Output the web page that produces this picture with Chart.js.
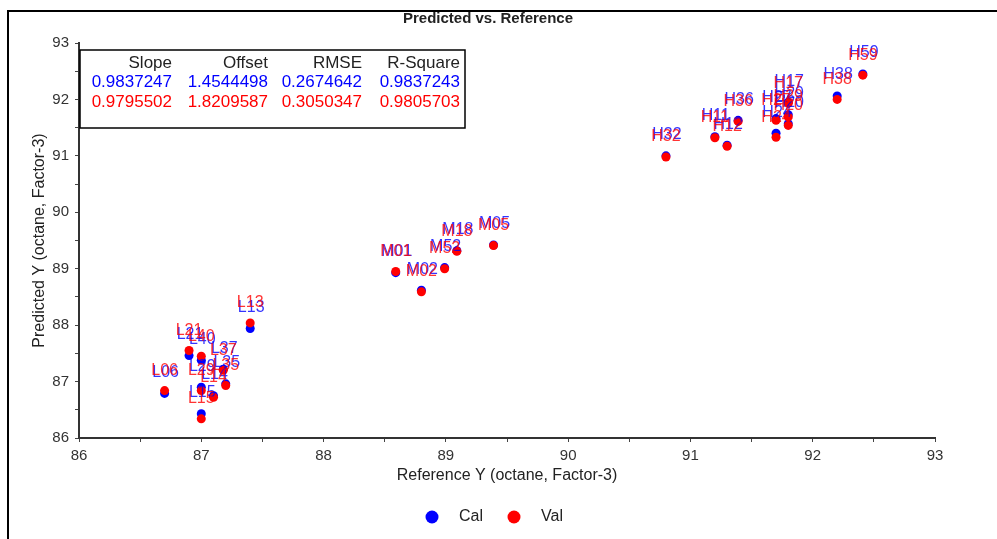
<!DOCTYPE html>
<html>
<head>
<meta charset="utf-8">
<script src="https://cdn.jsdelivr.net/npm/chart.js@4.4.1/dist/chart.umd.min.js"></script>
<style>
  html, body { margin: 0; padding: 0; background: #fff; }
  #wrap { width: 997px; height: 539px; position: relative; }
</style>
</head>
<body>
<div id="wrap"><canvas id="chart" width="997" height="539"></canvas></div>
<script>
// sample names and values
const samples = ['H59','H38','H17','H29','H20','H27','H24','H36','H11','H12','H32',
                 'M05','M18','M52','M01','M02',
                 'L13','L21','L40','L37','L35','L29','L14','L06','L15'];
const refY = [92.41, 92.20, 91.80, 91.80, 91.80, 91.70, 91.70, 91.39, 91.20, 91.30, 90.80,
              89.39, 89.09, 88.99, 88.59, 88.80,
              87.40, 86.90, 87.00, 87.18, 87.20, 87.00, 87.10, 86.70, 87.00];
const calPred = [92.45, 92.06, 91.95, 91.73, 91.57, 91.66, 91.40, 91.63, 91.34, 91.19, 91.00,
                 89.42, 89.32, 89.02, 88.93, 88.62,
                 87.94, 87.46, 87.38, 87.22, 86.96, 86.90, 86.75, 86.79, 86.43];
const valPred = [92.43, 92.00, 91.93, 91.69, 91.54, 91.63, 91.33, 91.61, 91.32, 91.17, 90.98,
                 89.41, 89.31, 89.00, 88.95, 88.59,
                 88.04, 87.55, 87.45, 87.20, 86.93, 86.84, 86.72, 86.84, 86.34];

const statNames = ['Slope', 'Offset', 'RMSE', 'R-Square'];
const calStats = ['0.9837247', '1.4544498', '0.2674642', '0.9837243'];
const valStats = ['0.9795502', '1.8209587', '0.3050347', '0.9805703'];

const seriesNames = ['Cal', 'Val'];
const BLUE = '#0000ff';
const RED = '#ff0000';
const FONT = 'Arial, "Liberation Sans", sans-serif';

function pts(ys) {
    return refY.map((x, i) => ({ x: x, y: ys[i] }));
}

// frame, title, stats box, point labels and legend
const extras = {
    id: 'extras',
    beforeDraw(chart) {
        const c = chart.ctx;
        c.save();
        c.fillStyle = '#fff';
        c.fillRect(0, 0, chart.width, chart.height);
        c.strokeStyle = '#000';
        c.lineWidth = 2;
        c.strokeRect(8, 11, 1200, 1200);
        c.fillStyle = '#222';
        c.font = 'bold 15px ' + FONT;
        c.textAlign = 'center';
        c.textBaseline = 'middle';
        c.fillText('Predicted vs. Reference', 488, 19);
        c.restore();
    },
    afterDatasetsDraw(chart) {
        const c = chart.ctx;
        c.save();
        c.font = '16px ' + FONT;
        c.textAlign = 'center';
        c.textBaseline = 'middle';
        [0, 1].forEach(d => {
            const meta = chart.getDatasetMeta(d);
            c.fillStyle = d === 0 ? BLUE : RED;
            c.globalAlpha = d === 0 ? 0.8 : 0.8;
            meta.data.forEach((p, i) => {
                const off = d === 0 ? 1 : 0;
                c.fillText(samples[i], p.x + off, p.y - 20 - off);
            });
        });
        c.restore();
    },
    afterDraw(chart) {
        const c = chart.ctx;
        c.save();
        // stats box
        c.fillStyle = '#fff';
        c.fillRect(80, 50, 385, 78);
        c.strokeStyle = '#000';
        c.lineWidth = 1.5;
        c.strokeRect(80, 50, 385, 78);
        const colRight = [172, 268, 362, 460];
        c.font = '17px ' + FONT;
        c.textAlign = 'right';
        c.textBaseline = 'middle';
        statNames.forEach((s, i) => {
            c.fillStyle = '#222';
            c.fillText(s, colRight[i], 63);
            c.fillStyle = BLUE;
            c.fillText(calStats[i], colRight[i], 82);
            c.fillStyle = RED;
            c.fillText(valStats[i], colRight[i], 102);
        });
        // legend
        const lx = [432, 514];
        c.font = '16px ' + FONT;
        seriesNames.forEach((n, i) => {
            c.fillStyle = i === 0 ? BLUE : RED;
            c.beginPath();
            c.arc(lx[i], 517, 6.5, 0, Math.PI * 2);
            c.fill();
            c.fillStyle = '#222';
            c.textAlign = 'left';
            c.fillText(n, lx[i] + 27, 517);
        });
        c.restore();
    }
};

const tickCb = v => (Math.abs(v - Math.round(v)) < 1e-6 ? String(Math.round(v)) : '');

new Chart(document.getElementById('chart').getContext('2d'), {
    type: 'scatter',
    data: {
        datasets: [
            { label: 'Cal', data: pts(calPred), backgroundColor: BLUE, borderColor: BLUE,
              pointRadius: 4.5, pointHoverRadius: 4.5, borderWidth: 0, order: 1 },
            { label: 'Val', data: pts(valPred), backgroundColor: RED, borderColor: RED,
              pointRadius: 4.5, pointHoverRadius: 4.5, borderWidth: 0, order: 0 }
        ]
    },
    options: {
        responsive: false,
        animation: false,
        events: [],
        layout: { padding: { left: 8, right: 62, top: 43, bottom: 50 } },
        plugins: { legend: { display: false }, tooltip: { enabled: false } },
        scales: {
            x: {
                type: 'linear', min: 86, max: 93,
                afterFit: s => { s.height = 51; },
                grid: { drawOnChartArea: false, drawTicks: true, tickLength: 4, color: '#444' },
                border: { display: true, color: '#333', width: 2 },
                ticks: { stepSize: 0.5, autoSkip: false, maxRotation: 0, padding: 5, color: '#333',
                         font: { family: FONT, size: 15 }, callback: tickCb },
                title: { display: true, text: 'Reference Y (octane, Factor-3)', color: '#222',
                         font: { family: FONT, size: 16 }, padding: { top: 0, bottom: 4 } }
            },
            y: {
                type: 'linear', min: 86, max: 93,
                afterFit: s => { s.width = 71; },
                grid: { drawOnChartArea: false, drawTicks: true, tickLength: 4, color: '#444' },
                border: { display: true, color: '#333', width: 2 },
                ticks: { stepSize: 0.5, autoSkip: false, padding: 6, color: '#333',
                         font: { family: FONT, size: 15 }, callback: tickCb },
                title: { display: true, text: 'Predicted Y (octane, Factor-3)', color: '#222',
                         font: { family: FONT, size: 16 }, padding: { top: 22, bottom: 0 } }
            }
        }
    },
    plugins: [extras]
});
</script>
</body>
</html>
